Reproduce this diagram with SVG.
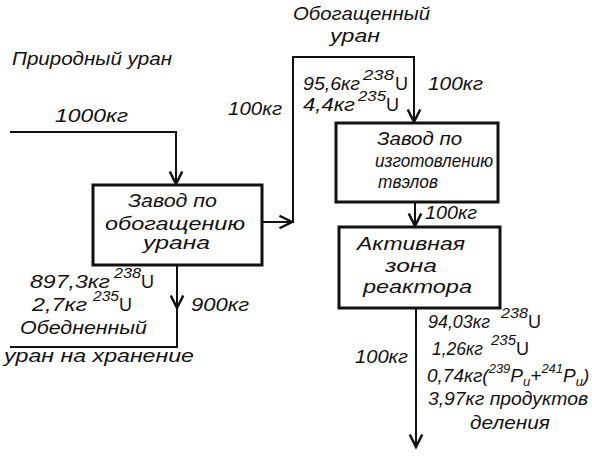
<svg xmlns="http://www.w3.org/2000/svg" width="592" height="462" viewBox="0 0 592 462">
<style>
.t{font-family:"Liberation Sans","DejaVu Sans",sans-serif;font-style:italic;font-size:19px;fill:#111}
.s{font-family:"Liberation Sans","DejaVu Sans",sans-serif;font-style:italic;font-size:14px;fill:#111}
.u{font-family:"Liberation Sans","DejaVu Sans",sans-serif;font-size:18px;fill:#111}
.box{fill:#fff;stroke:#111;stroke-width:3}
.ln{fill:none;stroke:#111;stroke-width:2}
</style>
<defs>
<marker id="ah" markerUnits="userSpaceOnUse" markerWidth="20" markerHeight="20" viewBox="-12 -8 14 16" refX="0" refY="0" orient="auto">
<path d="M-10,-5 L0,0 L-10,5" fill="none" stroke="#111" stroke-width="2"/>
</marker>
</defs>
<rect width="592" height="462" fill="#fff"/>

<g id="connectors">
<path class="ln" d="M10,132 H176 V184" marker-end="url(#ah)"/>
<path class="ln" d="M262,222 H292" marker-end="url(#ah)"/>
<path class="ln" d="M293,223 V57 H414 V122" marker-end="url(#ah)"/>
<path class="ln" d="M415,202 V226" marker-end="url(#ah)"/>
<path class="ln" d="M416,308 V447" marker-end="url(#ah)"/>
<path class="ln" d="M177,265 V308" marker-end="url(#ah)"/>
<path class="ln" d="M177,306 V347 H10"/>
</g>

<g id="labels">
<text class="t" x="12" y="65" textLength="160" lengthAdjust="spacingAndGlyphs">Природный уран</text>
<text class="t" x="55" y="122" textLength="73" lengthAdjust="spacingAndGlyphs">1000кг</text>
<text class="t" x="293" y="20" textLength="137" lengthAdjust="spacingAndGlyphs">Обогащенный</text>
<text class="t" x="330" y="42" textLength="50" lengthAdjust="spacingAndGlyphs">уран</text>
<text class="t" x="228" y="115" textLength="54" lengthAdjust="spacingAndGlyphs">100кг</text>
<text class="t" x="303" y="90" textLength="57" lengthAdjust="spacingAndGlyphs">95,6кг</text>
<text class="s" x="363" y="80" textLength="31" lengthAdjust="spacingAndGlyphs">238</text>
<text class="u" x="395" y="90">U</text>
<text class="t" x="303" y="111" textLength="52" lengthAdjust="spacingAndGlyphs">4,4кг</text>
<text class="s" x="358" y="101" textLength="28" lengthAdjust="spacingAndGlyphs">235</text>
<text class="u" x="386" y="111">U</text>
<text class="t" x="428" y="90" textLength="55" lengthAdjust="spacingAndGlyphs">100кг</text>
<text class="t" x="425" y="219" textLength="52" lengthAdjust="spacingAndGlyphs">100кг</text>
<text class="t" x="30" y="288" textLength="80" lengthAdjust="spacingAndGlyphs">897,3кг</text>
<text class="s" x="114" y="278" textLength="27" lengthAdjust="spacingAndGlyphs">238</text>
<text class="u" x="141" y="288">U</text>
<text class="t" x="32" y="311" textLength="55" lengthAdjust="spacingAndGlyphs">2,7кг</text>
<text class="s" x="93" y="301" textLength="26" lengthAdjust="spacingAndGlyphs">235</text>
<text class="u" x="119" y="311">U</text>
<text class="t" x="20" y="334" textLength="127" lengthAdjust="spacingAndGlyphs">Обедненный</text>
<text class="t" x="4" y="362" textLength="190" lengthAdjust="spacingAndGlyphs">уран на хранение</text>
<text class="t" x="191" y="311" textLength="58" lengthAdjust="spacingAndGlyphs">900кг</text>
<text class="t" x="355" y="363" textLength="53" lengthAdjust="spacingAndGlyphs">100кг</text>
<text class="t" x="428" y="328" textLength="62" lengthAdjust="spacingAndGlyphs">94,03кг</text>
<text class="s" x="501" y="318" textLength="27" lengthAdjust="spacingAndGlyphs">238</text>
<text class="u" x="528" y="328">U</text>
<text class="t" x="432" y="355" textLength="51" lengthAdjust="spacingAndGlyphs">1,26кг</text>
<text class="s" x="491" y="345" textLength="25" lengthAdjust="spacingAndGlyphs">235</text>
<text class="u" x="516" y="355">U</text>
<text class="t" x="427" y="382">0,74кг(<tspan dy="-9" font-size="13">239</tspan><tspan dy="9">P</tspan><tspan dy="4" font-size="13">u</tspan><tspan dy="-4">+</tspan><tspan dy="-9" font-size="13">241</tspan><tspan dy="9">P</tspan><tspan dy="4" font-size="13">u</tspan><tspan dy="-4">)</tspan></text>
<text class="t" x="428" y="405" textLength="160" lengthAdjust="spacingAndGlyphs">3,97кг продуктов</text>
<text class="t" x="470" y="429" textLength="80" lengthAdjust="spacingAndGlyphs">деления</text>
</g>

<g id="enrichment">
<rect class="box" x="93" y="185" width="169" height="80"/>
<text class="t" x="128" y="207" textLength="89" lengthAdjust="spacingAndGlyphs">Завод по</text>
<text class="t" x="105" y="230" textLength="140" lengthAdjust="spacingAndGlyphs">обогащению</text>
<text class="t" x="143" y="249" textLength="67" lengthAdjust="spacingAndGlyphs">урана</text>
</g>

<g id="fuel">
<rect class="box" x="336" y="123" width="162" height="79"/>
<text class="t" x="377" y="145" textLength="85" lengthAdjust="spacingAndGlyphs">Завод по</text>
<text class="t" x="375" y="167" textLength="118" lengthAdjust="spacingAndGlyphs">изготовлению</text>
<text class="t" x="378" y="188" textLength="60" lengthAdjust="spacingAndGlyphs">твэлов</text>
</g>

<g id="reactor">
<rect class="box" x="339" y="227" width="161" height="81"/>
<text class="t" x="357" y="250" textLength="108" lengthAdjust="spacingAndGlyphs">Активная</text>
<text class="t" x="385" y="272" textLength="52" lengthAdjust="spacingAndGlyphs">зона</text>
<text class="t" x="363" y="293" textLength="109" lengthAdjust="spacingAndGlyphs">реактора</text>
</g>
</svg>
